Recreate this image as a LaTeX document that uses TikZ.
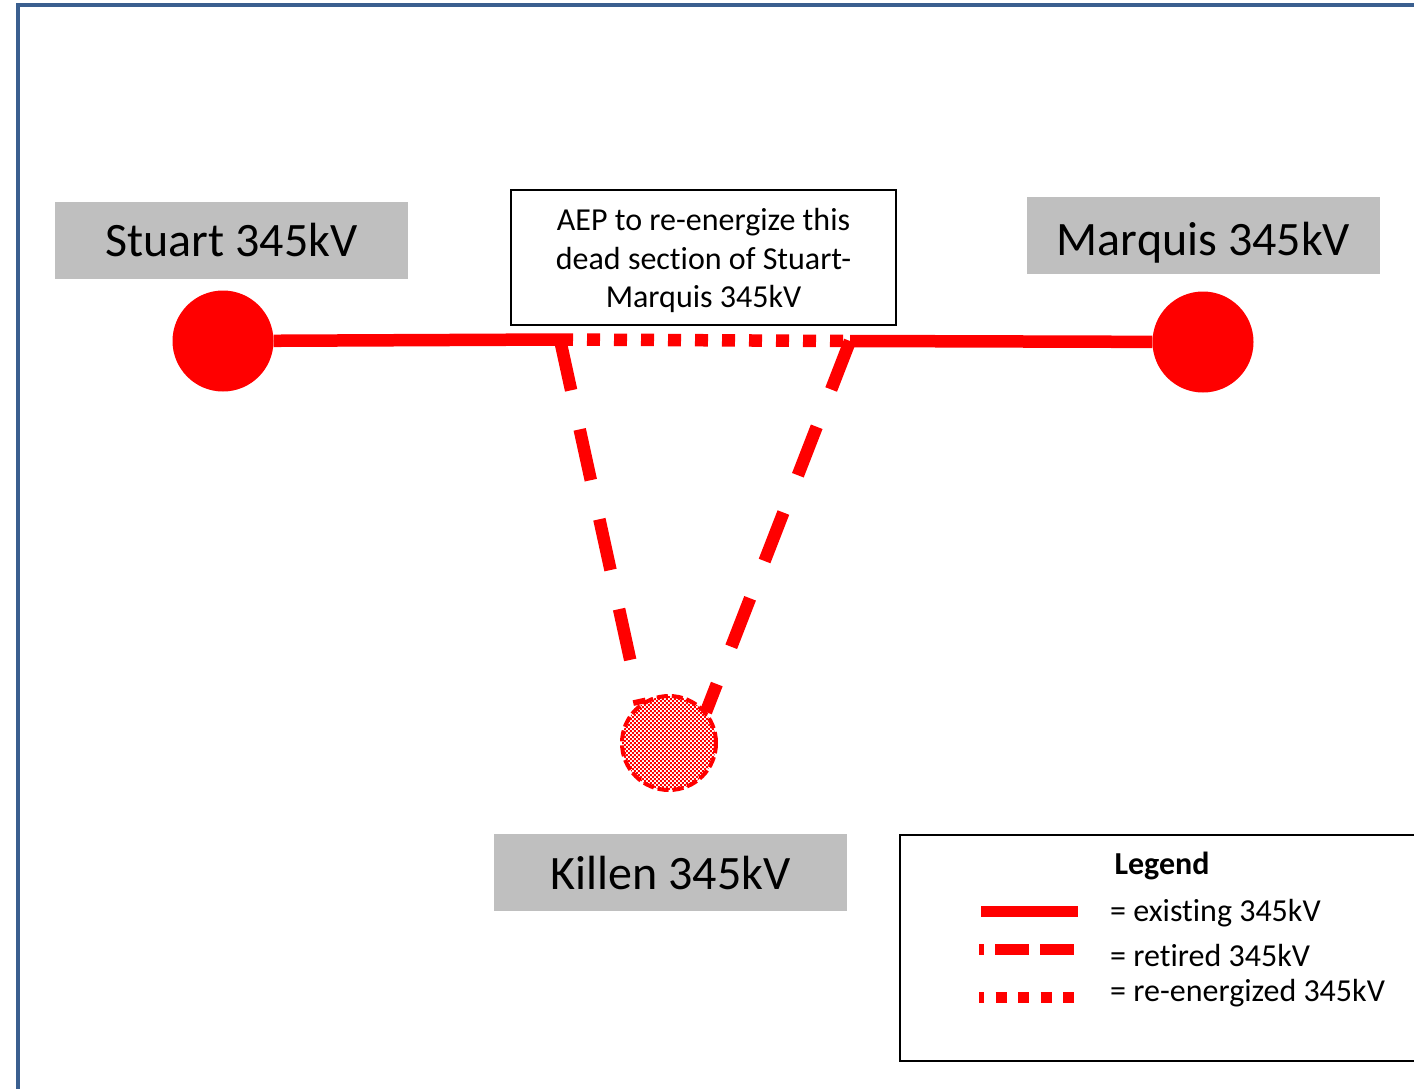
\documentclass[tikz,border=0pt]{standalone}
\usepackage{fontspec}
\setmainfont[Ligatures=NoCommon]{Carlito}
\usetikzlibrary{patterns}

% fine red checkerboard used for the de-energized station
\pgfdeclarepatternformonly{checker}{\pgfpointorigin}{\pgfpoint{4.4pt}{4.4pt}}{\pgfpoint{4.4pt}{4.4pt}}{%
  \pgfpathrectangle{\pgfpointorigin}{\pgfpoint{2.2pt}{2.2pt}}%
  \pgfpathrectangle{\pgfpoint{2.2pt}{2.2pt}}{\pgfpoint{2.2pt}{2.2pt}}%
  \pgfusepath{fill}}

\definecolor{frameblue}{RGB}{58,95,143}
\definecolor{labelgray}{RGB}{191,191,191}
\definecolor{linered}{RGB}{255,0,0}

\tikzset{
  stationlabel/.style={fill=labelgray, minimum width=353pt, minimum height=77pt,
    inner sep=0pt, font=\fontsize{48}{56}\selectfont},
  busdot/.style={circle, fill=linered, minimum size=101pt, inner sep=0pt},
  existing/.style={draw=linered, line width=12.5pt},
  retired/.style={draw=linered, line width=12.5pt, dash pattern=on 52pt off 40pt},
  reenergized/.style={draw=linered, line width=12.5pt, dash pattern=on 13pt off 14pt},
  legtext/.style={anchor=west, inner sep=0pt, font=\fontsize{32}{38}\selectfont},
}

\begin{document}
\begin{tikzpicture}[x=1pt,y=-1pt]
\useasboundingbox (0,0) rectangle (1414,1088);
\fill[white] (0,0) rectangle (1414,1088);

% page frame
\draw[frameblue, line width=4pt] (18,1100) -- (18,5) -- (1430,5);

% station labels
\node[stationlabel] (lstuart) at (231.5,240.5) {Stuart 345kV};
\node[stationlabel, text depth=0pt, text height=34pt] (lmarquis) at (1203.5,235.5) {\raisebox{-3pt}{Marquis 345kV}};
\node[stationlabel] (lkillen) at (670.5,872.5) {Killen 345kV};

% note box and its text
\node[draw=black, line width=2pt, fill=white, minimum width=385pt, minimum height=135pt,
      inner sep=0pt] (note) at (703.5,257.5) {};
\node[inner sep=0pt, align=center, font=\fontsize{32}{38.5}\selectfont, yshift=-3pt]
  (notetext) at (note.center) {AEP to re-energize this\\dead section of Stuart-\\Marquis 345kV};

% stations and junctions
\node[busdot] (stuart) at (223,341) {};
\node[busdot] (marquis) at (1203,342) {};
\node[circle, minimum size=96pt, inner sep=0pt] (killen) at (669,743) {};
\coordinate (j1) at (560,339.5);
\coordinate (j2) at (850,341);

% transmission lines
\draw[existing] (stuart) -- (j1);
\draw[existing] (j2) -- (marquis);
\draw[reenergized] (j1) -- (j2);
\draw[retired] (j1) -- (killen.127);
\draw[retired] (j2) -- (killen.40);

% Killen station: checkered fill with dashed outline
\fill[pattern=checker, pattern color=linered] (killen.center) circle (47pt);
\draw[linered, line width=4pt, dash pattern=on 11pt off 4pt] (killen.center) circle (47pt);

% legend
\node[draw=black, line width=2pt, minimum width=530pt, minimum height=226pt, inner sep=0pt,
      anchor=north west] (legend) at (899,834) {};
\node[font=\bfseries\fontsize{32}{38}\selectfont, inner sep=0pt] (legtitle) at (1162,865.5) {Legend};
\coordinate (la1) at (981,911.5);
\coordinate (lb1) at (1078,911.5);
\coordinate (la2) at (979,949.5);
\coordinate (lb2) at (1075,949.5);
\coordinate (la3) at (979,997.5);
\coordinate (lb3) at (1075,997.5);
\draw[draw=linered, line width=11pt] (la1) -- (lb1);
\draw[draw=linered, line width=11pt, dash pattern=on 34pt off 11pt, dash phase=29pt] (la2) -- (lb2);
\draw[draw=linered, line width=11pt, dash pattern=on 11pt off 11.5pt, dash phase=6pt] (la3) -- (lb3);
\node[legtext] (t1) at (1110,913.5) {= existing 345kV};
\node[legtext] (t2) at (1110,955.5) {= retired 345kV};
\node[legtext] (t3) at (1110,993.5) {= re-energized 345kV};
\end{tikzpicture}
\end{document}
